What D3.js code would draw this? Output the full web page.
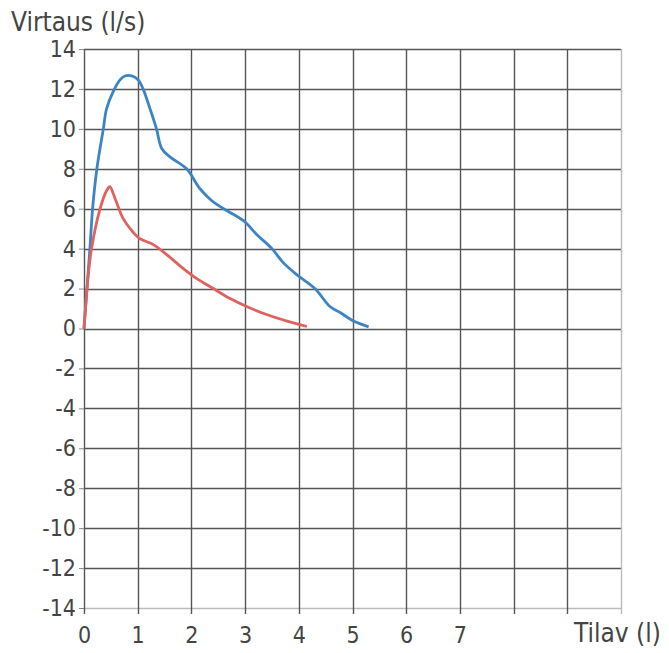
<!DOCTYPE html>
<html>
<head>
<meta charset="utf-8">
<script src="https://cdn.jsdelivr.net/npm/d3@7"></script>
<style>
  body { margin: 0; background: #fff; }
  text { font-family: "DejaVu Sans Condensed", "DejaVu Sans", sans-serif; fill: #444; }
</style>
</head>
<body>
<script>
// flow-volume curves: volume (l) and flow (l/s)
var blueVolume = [0, 0.11, 0.16, 0.24, 0.36, 0.42, 0.55, 0.67, 0.76, 0.89, 1.01, 1.1, 1.23, 1.35, 1.45, 1.6, 1.91, 2.16, 2.38, 2.6, 2.97, 3.22, 3.5, 3.71, 3.96, 4.3, 4.58, 4.77, 5.02, 5.3];
var blueFlow   = [0, 4, 6, 8, 10, 11, 11.9, 12.45, 12.65, 12.65, 12.45, 12, 11, 10, 9.0, 8.6, 8, 7.0, 6.4, 6, 5.4, 4.7, 4, 3.3, 2.7, 2, 1.1, 0.8, 0.37, 0.08];
var redVolume  = [0, 0.08, 0.14, 0.3, 0.42, 0.48, 0.58, 0.73, 0.89, 1.04, 1.29, 1.54, 1.85, 2.1, 2.41, 2.72, 3.03, 3.4, 3.78, 4.15];
var redFlow    = [0, 2.7, 4, 6, 6.9, 7.1, 6.5, 5.5, 4.9, 4.5, 4.2, 3.7, 3.0, 2.5, 2.0, 1.5, 1.1, 0.7, 0.37, 0.1];

var xTicks = [0, 1, 2, 3, 4, 5, 6, 7, 8, 9, 10];
var xLabels = ["0", "1", "2", "3", "4", "5", "6", "7", "", "", ""];
var yTicks = [-14, -12, -10, -8, -6, -4, -2, 0, 2, 4, 6, 8, 10, 12, 14];
var yTitle = "Virtaus (l/s)";
var xTitle = "Tilav (l)";

var width = 669, height = 653;

var x = d3.scaleLinear().domain([0, 10]).range([84, 621]);
var y = d3.scaleLinear().domain([-14, 14]).range([608, 49]);

var svg = d3.select("body").append("svg")
    .attr("width", width)
    .attr("height", height);

// grid
svg.append("g")
    .selectAll("line")
    .data(yTicks)
    .join("line")
    .attr("x1", x(0))
    .attr("x2", x(10))
    .attr("y1", d => Math.round(y(d)) + 0.5)
    .attr("y2", d => Math.round(y(d)) + 0.5)
    .attr("stroke", d => d == -14 ? "#bbb" : "#555")
    .attr("stroke-width", 1.4);

svg.append("g")
    .selectAll("line")
    .data(xTicks)
    .join("line")
    .attr("x1", d => Math.round(x(d)) + 0.5)
    .attr("x2", d => Math.round(x(d)) + 0.5)
    .attr("y1", y(14))
    .attr("y2", y(-14) + 6)
    .attr("stroke", d => d == 10 ? "#bbb" : "#555")
    .attr("stroke-width", 1.4);

// y axis
var yAxis = d3.axisLeft(y)
    .tickValues(yTicks)
    .tickFormat(d => String(d))
    .tickSize(5)
    .tickPadding(3);

var gy = svg.append("g")
    .attr("transform", `translate(${x(0)},0)`)
    .call(yAxis);
gy.select(".domain").remove();
gy.selectAll(".tick line").attr("stroke", "#888");
gy.selectAll("text")
    .style("font-size", "23px")
    .attr("fill", "#444");

// x axis labels
var gx = svg.append("g")
    .attr("transform", `translate(0,${y(-14)})`)
    .call(d3.axisBottom(x).tickValues(xTicks).tickFormat((d, i) => xLabels[i]).tickSize(0).tickPadding(19));
gx.select(".domain").remove();
gx.selectAll("text")
    .style("font-size", "23px")
    .attr("fill", "#444");

// axis titles
svg.append("text")
    .attr("x", 11)
    .attr("y", 31)
    .style("font-size", "26px")
    .text(yTitle);

svg.append("text")
    .attr("x", 574)
    .attr("y", 642)
    .style("font-size", "26px")
    .text(xTitle);

// curves
var line = d3.line()
    .x(d => x(d[0]))
    .y(d => y(d[1]))
    .curve(d3.curveCatmullRom);

svg.append("path")
    .datum(d3.zip(blueVolume, blueFlow))
    .attr("fill", "none")
    .attr("stroke", "#3c84c4")
    .attr("stroke-width", 2.8)
    .attr("stroke-linejoin", "round")
    .attr("d", line);

svg.append("path")
    .datum(d3.zip(redVolume, redFlow))
    .attr("fill", "none")
    .attr("stroke", "#e0625f")
    .attr("stroke-width", 2.8)
    .attr("stroke-linejoin", "round")
    .attr("d", line);
</script>
</body>
</html>
